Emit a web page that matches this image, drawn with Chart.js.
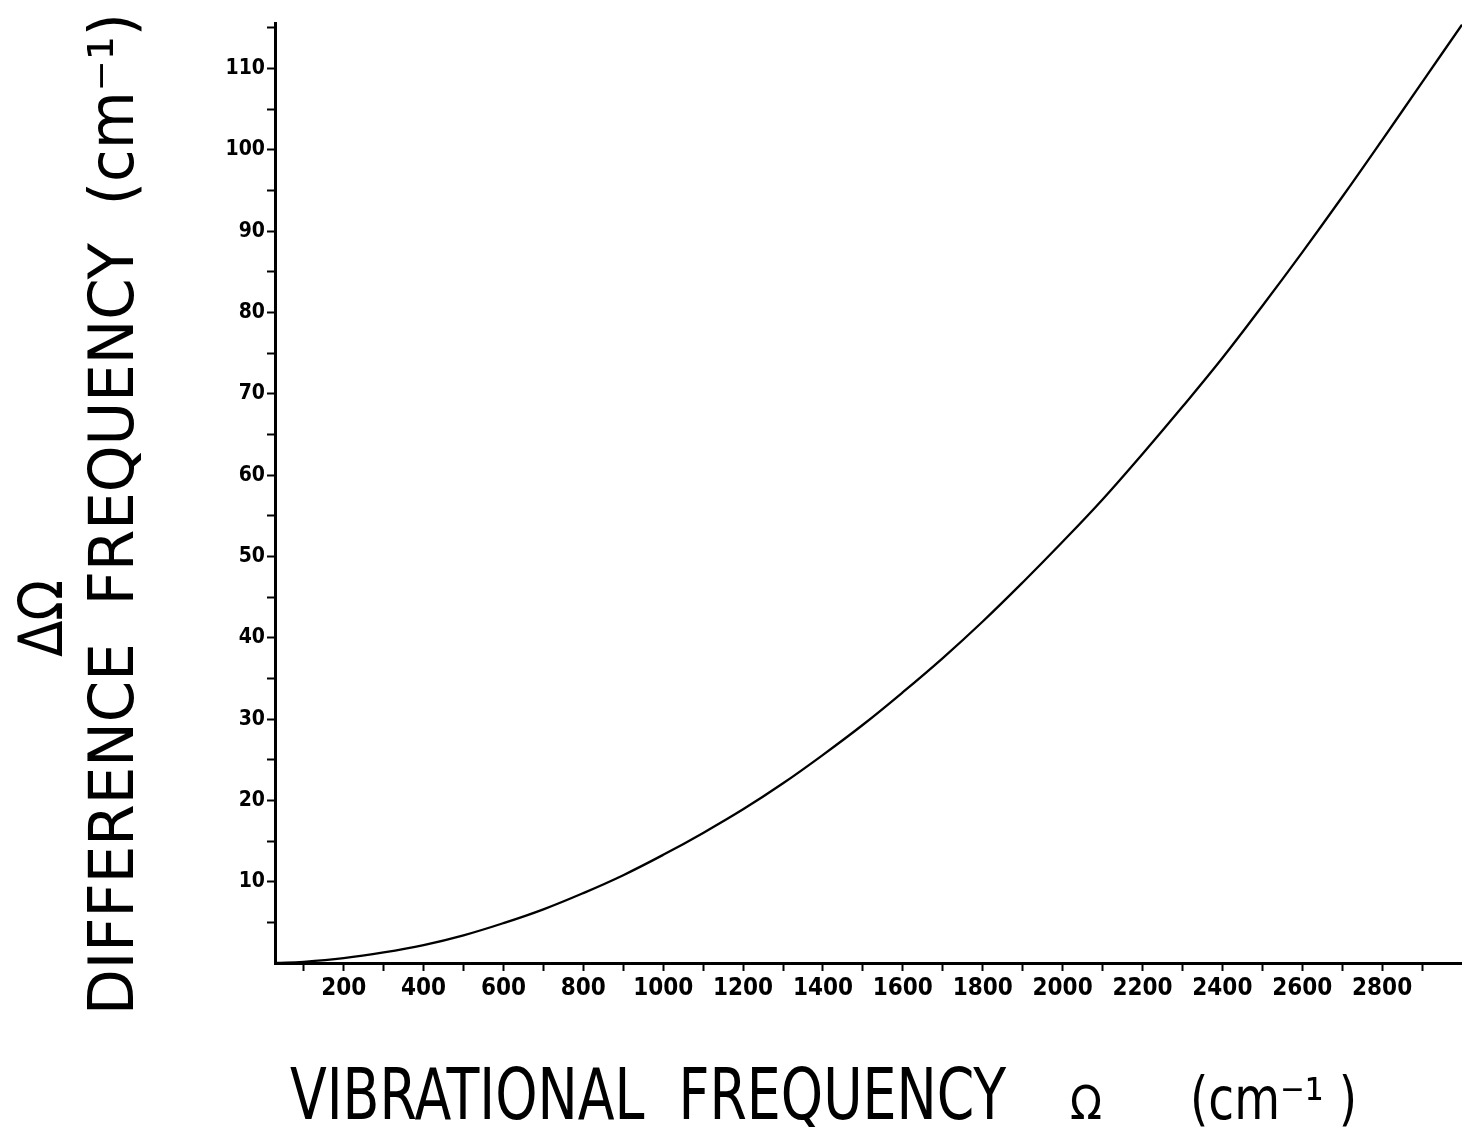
<!DOCTYPE html>
<html>
<head>
<meta charset="utf-8">
<script src="https://cdn.jsdelivr.net/npm/chart.js@4"></script>
<style>
  html, body { margin: 0; padding: 0; background: #fff; }
  #wrap { width: 1462px; height: 1127px; }
</style>
</head>
<body>
<div id="wrap"><canvas id="chart" width="1462" height="1127"></canvas></div>
<script>
// vibrational frequency (cm-1) and difference frequency (cm-1)
const omega = [30, 100, 200, 300, 400, 500, 600, 700, 800, 900, 1000,
  1100, 1200, 1300, 1400, 1500, 1600, 1700, 1800, 1900, 2000,
  2100, 2200, 2300, 2400, 2500, 2600, 2700, 2800, 2900, 3000]
const deltaOmega = [0, 0.15, 0.6, 1.3, 2.2, 3.4, 4.9, 6.6, 8.6, 10.8, 13.3,
  16.0, 18.9, 22.1, 25.6, 29.3, 33.3, 37.5, 42.0, 46.8, 51.8,
  57.0, 62.6, 68.4, 74.4, 80.8, 87.4, 94.2, 101.2, 108.3, 115.4]

const xTicks = [100, 200, 300, 400, 500, 600, 700, 800, 900, 1000, 1100, 1200, 1300, 1400,
  1500, 1600, 1700, 1800, 1900, 2000, 2100, 2200, 2300, 2400, 2500, 2600, 2700, 2800, 2900]
const xLabels = [200, 400, 600, 800, 1000, 1200, 1400, 1600, 1800, 2000, 2200, 2400, 2600, 2800]
const yTicks = [5, 10, 15, 20, 25, 30, 35, 40, 45, 50, 55, 60, 65, 70, 75, 80, 85, 90, 95, 100, 105, 110, 115]
const yLabels = [10, 20, 30, 40, 50, 60, 70, 80, 90, 100, 110]

const tickFont = '"Liberation Sans Narrow", "DejaVu Sans Condensed", "Liberation Sans", sans-serif'
const titleFont = '"DejaVu Sans Condensed", "Liberation Sans Narrow", "DejaVu Sans", sans-serif'

// squeeze/stretch a string so it runs from x0 to x1 on the baseline
function fitText (ctx, text, x0, x1, font) {
  ctx.font = font
  const w = ctx.measureText(text).width
  ctx.save()
  ctx.translate(x0, 0)
  ctx.scale((x1 - x0) / w, 1)
  ctx.fillText(text, 0, 0)
  ctx.restore()
}

const axisTitles = {
  id: 'axisTitles',
  afterDraw (chart) {
    const ctx = chart.ctx
    ctx.save()
    ctx.fillStyle = '#000'
    ctx.textBaseline = 'alphabetic'
    ctx.textAlign = 'left'

    // x title
    ctx.save()
    ctx.translate(0, 1119)
    fitText(ctx, 'VIBRATIONAL  FREQUENCY', 290, 1006, '72px ' + titleFont)
    fitText(ctx, 'Ω', 1070, 1102, '46px ' + titleFont)
    fitText(ctx, '(cm⁻¹ )', 1190, 1357, '58px ' + titleFont)
    ctx.restore()

    // y titles, reading bottom to top
    ctx.save()
    ctx.translate(62, 0)
    ctx.rotate(-Math.PI / 2)
    fitText(ctx, 'ΔΩ', -657, -580, '60px ' + titleFont)
    ctx.restore()

    ctx.save()
    ctx.translate(133, 0)
    ctx.rotate(-Math.PI / 2)
    fitText(ctx, 'DIFFERENCE  FREQUENCY  (cm⁻¹)', -1015, -13, '63px ' + titleFont)
    ctx.restore()

    ctx.restore()
  }
}

new Chart(document.getElementById('chart'), {
  type: 'line',
  data: {
    datasets: [
      {
        data: omega.map((x, i) => ({ x: x, y: deltaOmega[i] })),
        borderColor: '#000',
        borderWidth: 2.3,
        pointRadius: 0,
        fill: false,
        tension: 0.4
      }
    ]
  },
  options: {
    responsive: false,
    animation: false,
    devicePixelRatio: 1,
    layout: { padding: { top: 23, left: 0, right: 0, bottom: 0 } },
    plugins: {
      legend: { display: false },
      tooltip: { enabled: false }
    },
    scales: {
      x: {
        type: 'linear',
        min: 28,
        max: 3000,
        afterBuildTicks (scale) { scale.ticks = xTicks.map(v => ({ value: v })) },
        afterFit (scale) { scale.height = 164 },
        grid: { drawOnChartArea: false, drawTicks: true, tickLength: 8, tickColor: '#000', tickWidth: 2 },
        border: { display: true, color: '#000', width: 3 },
        ticks: {
          autoSkip: false,
          maxRotation: 0,
          color: '#000',
          padding: 3,
          font: { family: tickFont, size: 24, weight: 'bold' },
          callback: v => xLabels.includes(v) ? String(v) : ''
        }
      },
      y: {
        type: 'linear',
        min: 0,
        max: 115.6,
        afterBuildTicks (scale) { scale.ticks = yTicks.map(v => ({ value: v })) },
        afterFit (scale) { scale.width = 275 },
        grid: { drawOnChartArea: false, drawTicks: true, tickLength: 8, tickColor: '#000', tickWidth: 2 },
        border: { display: true, color: '#000', width: 3 },
        ticks: {
          autoSkip: false,
          color: '#000',
          padding: 2,
          font: { family: tickFont, size: 21, weight: 'bold' },
          callback: v => yLabels.includes(v) ? String(v) : ''
        }
      }
    }
  },
  plugins: [axisTitles]
})
</script>
</body>
</html>
